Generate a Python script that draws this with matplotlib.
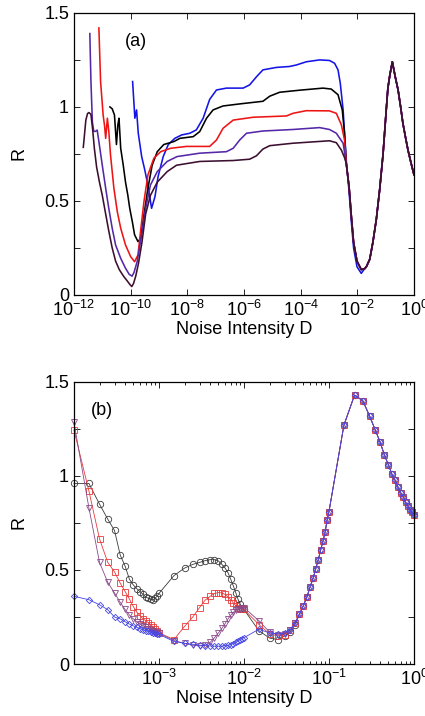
import numpy as np
import matplotlib
matplotlib.use("Agg")
import matplotlib.pyplot as plt
from matplotlib.ticker import FixedLocator, FuncFormatter, LogLocator, NullFormatter

plt.rcParams['font.family'] = ['Liberation Sans', 'DejaVu Sans']
plt.rcParams['mathtext.fontset'] = 'custom'
plt.rcParams['mathtext.rm'] = 'Liberation Sans'
plt.rcParams['mathtext.it'] = 'Liberation Sans:italic'

#===== panel (a) : continuous curves, x stored as log10(D) =====#
logD_blue = [-9.93, -9.85, -9.79, -9.73, -9.61, -9.50, -9.38, -9.26, -9.14, -9.03, -8.85, -8.67,
             -8.44, -8.20, -7.91, -7.68, -7.44, -7.21, -6.97, -6.62, -6.03, -5.80, -5.56, -5.33,
             -4.86, -4.39, -4.15, -3.80, -3.33, -2.98, -2.80, -2.68, -2.60, -2.50, -2.45, -2.39,
             -2.29, -2.21, -2.13, -2.01, -1.86]
R_blue = [1.135, 0.94, 0.984, 0.86, 0.736, 0.665, 0.576, 0.461, 0.523, 0.63, 0.736, 0.80,
          0.833, 0.851, 0.86, 0.878, 0.94, 1.04, 1.09, 1.10, 1.10, 1.117, 1.16, 1.197,
          1.21, 1.215, 1.223, 1.24, 1.25, 1.247, 1.232, 1.197, 1.126, 0.984, 0.86, 0.718,
          0.55, 0.39, 0.25, 0.15, 0.115]

logD_black = [-10.73, -10.65, -10.57, -10.50, -10.45, -10.41, -10.35, -10.26, -10.18, -10.10,
              -10.03, -9.94, -9.86, -9.74, -9.65, -9.53, -9.39, -9.24, -9.06, -8.83, -8.47,
              -8.26, -7.79, -7.56, -7.32, -7.09, -6.74, -6.15, -5.33, -5.09, -4.74, -4.03,
              -3.21, -2.92, -2.68, -2.53, -2.45]
R_black = [1.0, 0.99, 0.957, 0.80, 0.904, 0.94, 0.78, 0.69, 0.60, 0.532,
           0.46, 0.39, 0.32, 0.284, 0.30, 0.426, 0.567, 0.69, 0.762, 0.80, 0.816,
           0.833, 0.842, 0.869, 0.94, 0.984, 1.005, 1.016, 1.03, 1.057, 1.078, 1.089,
           1.10, 1.095, 1.065, 0.984, 0.86]

logD_red = [-11.12, -11.06, -10.97, -10.92, -10.88, -10.82, -10.77, -10.71, -10.59, -10.47,
            -10.35, -10.18, -10.00, -9.86, -9.74, -9.65, -9.53, -9.39, -9.18, -8.94, -8.59,
            -8.03, -7.21, -6.97, -6.74, -6.38, -5.68, -4.50, -4.27, -3.80, -2.98, -2.74,
            -2.56, -2.45]
R_red = [1.42, 1.135, 0.957, 0.90, 0.833, 0.94, 0.87, 0.745, 0.567, 0.443,
         0.355, 0.266, 0.204, 0.177, 0.213, 0.337, 0.496, 0.638, 0.727, 0.762, 0.78,
         0.79, 0.79, 0.824, 0.886, 0.93, 0.945, 0.952, 0.966, 0.98, 0.979, 0.966,
         0.904, 0.824]

logD_purple = [-11.44, -11.40, -11.35, -11.30, -11.24, -11.18, -11.12, -11.00, -10.88, -10.77,
               -10.65, -10.53, -10.35, -10.18, -10.05, -9.95, -9.88, -9.77, -9.65, -9.47,
               -9.30, -9.06, -8.71, -8.36, -7.56, -6.62, -6.38, -6.15, -5.91, -5.33, -4.27,
               -3.33, -2.98, -2.74, -2.50]
R_purple = [1.39, 1.135, 0.92, 0.87, 0.87, 0.877, 0.816, 0.69, 0.567, 0.46,
            0.355, 0.266, 0.195, 0.142, 0.11, 0.10, 0.12, 0.177, 0.284, 0.46,
            0.585, 0.656, 0.71, 0.736, 0.754, 0.762, 0.78, 0.824, 0.86, 0.872, 0.88,
            0.89, 0.88, 0.86, 0.807]

logD_maroon = [-11.67, -11.58, -11.52, -11.47, -11.40, -11.34, -11.28, -11.20, -11.10, -11.00,
               -10.88, -10.77, -10.65, -10.53, -10.40, -10.25, -10.12, -10.02, -9.96, -9.90,
               -9.82, -9.72, -9.60, -9.47, -9.30, -9.06, -8.71, -8.38, -7.56, -6.38, -5.80,
               -5.56, -5.33, -5.09, -4.27, -2.98, -2.74, -2.56, -2.45]
R_maroon = [0.785, 0.93, 0.965, 0.97, 0.96, 0.88, 0.78, 0.68, 0.60, 0.53,
            0.43, 0.34, 0.25, 0.18, 0.135, 0.10, 0.075, 0.055, 0.045, 0.06,
            0.10, 0.17, 0.28, 0.43, 0.53, 0.60, 0.656, 0.69, 0.71, 0.715, 0.722,
            0.74, 0.776, 0.794, 0.807, 0.82, 0.81, 0.77, 0.73]

# shared high-noise part of all five curves
logD_tail = [-2.39, -2.29, -2.21, -2.13, -2.01, -1.86, -1.74, -1.68, -1.56, -1.45, -1.33, -1.21,
             -1.09, -0.98, -0.92, -0.85, -0.763, -0.66, -0.56, -0.47, -0.39, -0.30, -0.21,
             -0.10, 0.0]
R_tail = [0.70, 0.576, 0.42, 0.28, 0.18, 0.135, 0.14, 0.15, 0.19, 0.28, 0.40, 0.56,
          0.75, 0.98, 1.10, 1.17, 1.24, 1.16, 1.09, 1.0, 0.913, 0.84, 0.77,
          0.70, 0.64]

curves_a = [(logD_blue, R_blue, '#1414e6'),
            (logD_black, R_black, '#000000'),
            (logD_red, R_red, '#ee1414'),
            (logD_purple, R_purple, '#5428a8'),
            (logD_maroon, R_maroon, '#3c0f30')]

#===== panel (b) : symbols =====#
D_b = [1.0e-4, 1.5e-4, 2.0e-4, 2.5e-4, 3.0e-4, 3.5e-4, 4.0e-4, 4.5e-4, 5.0e-4, 5.5e-4,
       6.0e-4, 6.5e-4, 7.0e-4, 7.5e-4, 8.0e-4, 8.5e-4, 9.0e-4, 9.5e-4, 1.0e-3,
       1.5e-3, 2.0e-3, 2.5e-3, 3.0e-3, 3.5e-3, 4.0e-3, 4.5e-3, 5.0e-3, 5.5e-3,
       6.0e-3, 6.5e-3, 7.0e-3, 7.5e-3, 8.0e-3, 8.5e-3, 9.0e-3, 9.5e-3, 1.0e-2,
       1.5e-2, 2.0e-2, 2.5e-2, 3.0e-2, 3.5e-2, 4.0e-2]
D_b_tail = [0.045, 0.05, 0.055, 0.06, 0.065, 0.07, 0.075, 0.08, 0.085, 0.09, 0.095, 0.1,
            0.15, 0.2, 0.25, 0.3, 0.35, 0.4, 0.45, 0.5, 0.55, 0.6, 0.65, 0.7, 0.75,
            0.8, 0.85, 0.9, 0.95, 1.0]
R_b_tail = [0.265, 0.31, 0.356, 0.41, 0.455, 0.507, 0.555, 0.608, 0.652, 0.70, 0.764, 0.81,
            1.27, 1.43, 1.40, 1.32, 1.245, 1.18, 1.11, 1.06, 1.01, 0.977, 0.94, 0.91, 0.89,
            0.86, 0.84, 0.82, 0.806, 0.79]

R_circ = [0.96, 0.96, 0.85, 0.77, 0.71, 0.58, 0.52, 0.45, 0.42, 0.40,
          0.385, 0.37, 0.355, 0.35, 0.345, 0.34, 0.35, 0.36, 0.375,
          0.47, 0.51, 0.53, 0.54, 0.55, 0.555, 0.555, 0.548, 0.53,
          0.51, 0.485, 0.45, 0.415, 0.38, 0.345, 0.32, 0.30, 0.29,
          0.177, 0.138, 0.13, 0.15, 0.17, 0.21]
R_sq = [1.245, 0.92, 0.665, 0.54, 0.49, 0.43, 0.385, 0.345, 0.305, 0.275,
        0.257, 0.24, 0.23, 0.22, 0.21, 0.198, 0.187, 0.176, 0.166,
        0.13, 0.20, 0.25, 0.30, 0.34, 0.36, 0.375, 0.38, 0.378,
        0.37, 0.356, 0.342, 0.325, 0.31, 0.30, 0.295, 0.29, 0.29,
        0.21, 0.16, 0.15, 0.155, 0.18, 0.22]
R_tri = [1.285, 0.83, 0.54, 0.434, 0.378, 0.328, 0.29, 0.26, 0.24, 0.225,
         0.212, 0.203, 0.195, 0.188, 0.182, 0.177, 0.172, 0.168, 0.164,
         0.125, 0.11, 0.10, 0.097, 0.10, 0.115, 0.14, 0.165, 0.19,
         0.215, 0.24, 0.26, 0.275, 0.285, 0.29, 0.295, 0.298, 0.30,
         0.23, 0.17, 0.155, 0.16, 0.18, 0.22]
R_dia = [0.36, 0.342, 0.315, 0.289, 0.25, 0.24, 0.225, 0.212, 0.203, 0.195,
         0.188, 0.182, 0.177, 0.173, 0.17, 0.166, 0.163, 0.16, 0.158,
         0.12, 0.11, 0.105, 0.10, 0.098, 0.096, 0.095, 0.095, 0.095,
         0.097, 0.10, 0.103, 0.108, 0.115, 0.123, 0.13, 0.135, 0.14,
         0.185, 0.165, 0.16, 0.165, 0.18, 0.22]

series_b = [(R_circ, 'o', '#3a3a3a', 4.6),
            (R_sq, 's', '#e83a3a', 4.2),
            (R_tri, 'v', '#8a4a8a', 4.4),
            (R_dia, 'D', '#4646e6', 3.2)]

FS = 13


def style_axes(ax):
    ax.set_ylim(0, 1.5)
    ax.yaxis.set_major_locator(FixedLocator([0, 0.25, 0.5, 0.75, 1.0, 1.25, 1.5]))
    ax.yaxis.set_major_formatter(FuncFormatter(lambda v, p: ('%g' % v) if abs(v * 2 - round(v * 2)) < 1e-6 else ''))
    ax.tick_params(which='both', direction='in', top=True, right=True, labelsize=FS, width=0.6)
    ax.tick_params(which='major', length=4)
    ax.tick_params(which='minor', length=2.2)
    for s in ax.spines.values():
        s.set_linewidth(0.9)
    ax.set_xlabel('Noise Intensity D', fontsize=FS, labelpad=1)
    ax.set_ylabel('R', fontsize=FS, labelpad=12)


fig = plt.figure(figsize=(4.25, 7.16), dpi=100)
ax1 = fig.add_axes([0.174, 0.588, 0.800, 0.394])
ax2 = fig.add_axes([0.174, 0.0726, 0.800, 0.394])

# ---- (a)
for lx, r, col in curves_a:
    lx2 = list(lx) + [v for v in logD_tail if v > lx[-1]]
    r2 = list(r) + [rv for v, rv in zip(logD_tail, R_tail) if v > lx[-1]]
    ax1.plot(10.0 ** np.array(lx2), r2, color=col, lw=1.15)
ax1.set_xscale('log')
ax1.set_xlim(1e-12, 1)
ax1.xaxis.set_major_locator(FixedLocator([1e-12, 1e-10, 1e-8, 1e-6, 1e-4, 1e-2, 1]))
ax1.xaxis.set_minor_locator(FixedLocator([]))
style_axes(ax1)
ax1.text(0.15, 0.93, '(a)', transform=ax1.transAxes, fontsize=FS, va='top')

# ---- (b)
for r, mk, col, ms in series_b:
    ax2.plot(D_b + D_b_tail, list(r) + R_b_tail, marker=mk, color=col, lw=0.6,
             ms=ms, mfc='none', mec=col, mew=0.6, clip_on=False)
ax2.set_xscale('log')
ax2.set_xlim(1e-4, 1)
ax2.xaxis.set_major_locator(FixedLocator([1e-3, 1e-2, 1e-1, 1]))
ax2.xaxis.set_minor_locator(LogLocator(base=10, subs=np.arange(2, 10)))
ax2.xaxis.set_minor_formatter(NullFormatter())
style_axes(ax2)
ax2.text(0.05, 0.93, '(b)', transform=ax2.transAxes, fontsize=FS, va='top')

fig.savefig('out.png', dpi=100)
